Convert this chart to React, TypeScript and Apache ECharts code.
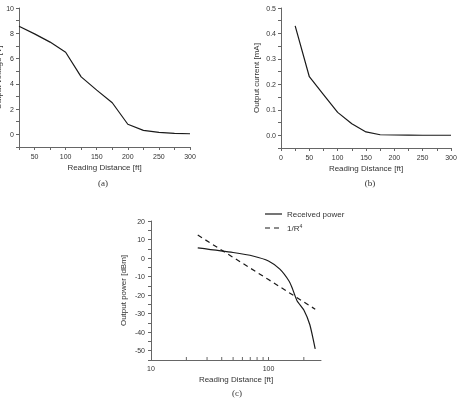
import React, { useEffect, useRef } from "react";
import * as echarts from "echarts";

// (a) Output voltage vs reading distance
const distA = [25, 50, 75, 100, 125, 150, 175, 200, 225, 250, 275, 300];
const voltA = [8.55, 7.95, 7.3, 6.5, 4.55, 3.5, 2.5, 0.8, 0.32, 0.15, 0.08, 0.05];

// (b) Output current vs reading distance
const distB = [25, 50, 75, 100, 125, 150, 175, 200, 225, 250, 275, 300];
const currB = [0.43, 0.23, 0.16, 0.09, 0.045, 0.013, 0.002, 0.001, 0.0005, 0, 0, 0];

// (c) Output power (log distance)
const distC = [25, 50, 75, 100, 125, 150, 160, 175, 200, 225, 250];
const recvC = [5.5, 3, 1, -1.6, -6, -12.5, -16.5, -23, -28, -36, -49];
const distR4 = [25, 100, 250];
const r4C = [12.4, -11.6, -27.6];
const minorTicksC = [20, 30, 40, 50, 60, 70, 80, 90, 200];

const FONT = "Liberation Sans";
const AX = "#666";
const TXT = "#333";
const LINE = "#1a1a1a";

const pairs = (xs: number[], ys: number[]) => xs.map((x, i) => [x, ys[i]]);

export default function App() {
  const ref = useRef<HTMLDivElement>(null);
  useEffect(() => {
    if (!ref.current) return;
    const chart = echarts.init(ref.current, null, { renderer: "svg" });
    const axisLine = { show: true, onZero: false, lineStyle: { color: AX, width: 1 } };
    const lbl = (extra: any = {}) => ({ color: TXT, fontFamily: FONT, fontSize: 7, ...extra });
    const nameStyle = { color: TXT, fontFamily: FONT, fontSize: 8 };
    const isMult = (v: number, m: number) => Math.abs(v / m - Math.round(v / m)) < 1e-6;
    const gridBase = { containLabel: false, outerBoundsMode: "none" };

    chart.setOption({
      animation: false,
      grid: [
        { ...gridBase, left: 19, top: 8, width: 171, height: 139 },
        { ...gridBase, left: 281, top: 8, width: 170, height: 140 },
        { ...gridBase, left: 151, top: 221, width: 170, height: 139 },
      ],
      xAxis: [
        {
          gridIndex: 0, type: "value", min: 25, max: 300, interval: 25,
          axisLine, splitLine: { show: false },
          axisTick: { show: true, length: 3, lineStyle: { color: AX } },
          axisLabel: lbl({ margin: 6, formatter: (v: number) => (isMult(v, 50) ? String(v) : "") }),
          name: "Reading Distance [ft]", nameLocation: "middle", nameGap: 16, nameTextStyle: nameStyle,
        },
        {
          gridIndex: 1, type: "value", min: 0, max: 300, interval: 25,
          axisLine, splitLine: { show: false },
          axisTick: { show: true, length: 3, lineStyle: { color: AX } },
          axisLabel: lbl({ margin: 6, formatter: (v: number) => (isMult(v, 50) ? String(v) : "") }),
          name: "Reading Distance [ft]", nameLocation: "middle", nameGap: 16, nameTextStyle: nameStyle,
        },
        {
          gridIndex: 2, type: "log", logBase: 10, min: 10, max: 280,
          axisLine, splitLine: { show: false },
          axisTick: { show: true, inside: true, length: 3, lineStyle: { color: AX } },
          axisLabel: lbl({ margin: 5, showMaxLabel: false }),
          name: "Reading Distance [ft]", nameLocation: "middle", nameGap: 15, nameTextStyle: nameStyle,
        },
      ],
      yAxis: [
        {
          gridIndex: 0, type: "value", min: -1, max: 10, interval: 1,
          axisLine, splitLine: { show: false },
          axisTick: { show: true, length: 3, lineStyle: { color: AX } },
          axisLabel: lbl({ margin: 5, formatter: (v: number) => (isMult(v, 2) ? String(v) : "") }),
          name: "Output voltage [V]", nameLocation: "middle", nameGap: 17, nameTextStyle: nameStyle,
        },
        {
          gridIndex: 1, type: "value", min: -0.05, max: 0.5, interval: 0.05,
          axisLine, splitLine: { show: false },
          axisTick: { show: true, length: 3, lineStyle: { color: AX } },
          axisLabel: lbl({ margin: 5, formatter: (v: number) => (isMult(v, 0.1) ? v.toFixed(1) : "") }),
          name: "Output current [mA]", nameLocation: "middle", nameGap: 21, nameTextStyle: nameStyle,
        },
        {
          gridIndex: 2, type: "value", min: -55, max: 20, interval: 5,
          axisLine, splitLine: { show: false },
          axisTick: { show: true, length: 3, lineStyle: { color: AX } },
          axisLabel: lbl({ margin: 6, formatter: (v: number) => (isMult(v, 10) ? String(v) : "") }),
          name: "Output power [dBm]", nameLocation: "middle", nameGap: 24, nameTextStyle: nameStyle,
        },
      ],
      series: [
        {
          type: "line", xAxisIndex: 0, yAxisIndex: 0, data: pairs(distA, voltA),
          showSymbol: false, symbol: "none", lineStyle: { color: LINE, width: 1.2 },
        },
        {
          type: "line", xAxisIndex: 1, yAxisIndex: 1, data: pairs(distB, currB),
          showSymbol: false, symbol: "none", lineStyle: { color: LINE, width: 1.2 },
        },
        {
          name: "Received power", type: "line", xAxisIndex: 2, yAxisIndex: 2, data: pairs(distC, recvC),
          showSymbol: false, symbol: "none", smooth: 0.2, lineStyle: { color: LINE, width: 1.2 },
        },
        {
          name: "1/R4", type: "line", xAxisIndex: 2, yAxisIndex: 2, data: pairs(distR4, r4C),
          showSymbol: false, symbol: "none", lineStyle: { color: LINE, width: 1.2, type: [5, 4] },
        },
        {
          type: "custom", xAxisIndex: 2, yAxisIndex: 2, clip: false,
          data: minorTicksC.map((x) => [x, -55]),
          encode: { x: 0, y: 1 },
          renderItem: (_p: any, api: any) => {
            const pt = api.coord([api.value(0), api.value(1)]);
            return {
              type: "line",
              shape: { x1: pt[0], y1: pt[1], x2: pt[0], y2: pt[1] - 3 },
              style: { stroke: AX, lineWidth: 1 },
            };
          },
        },
      ],
      graphic: [
        { type: "line", shape: { x1: 265, y1: 214, x2: 282, y2: 214 }, style: { stroke: LINE, lineWidth: 1.2 } },
        { type: "text", x: 287, y: 214, style: { text: "Received power", fill: TXT, font: `8px ${FONT}`, verticalAlign: "middle" } },
        { type: "line", shape: { x1: 265, y1: 228, x2: 282, y2: 228 }, style: { stroke: LINE, lineWidth: 1.2, lineDash: [5, 4] } },
        {
          type: "text", x: 287, y: 228,
          style: {
            text: "1/R{s|4}", fill: TXT, font: `8px ${FONT}`, verticalAlign: "middle",
            rich: { s: { fontSize: 5, verticalAlign: "top", fontFamily: FONT, fill: TXT, padding: [0, 0, 4, 0] } },
          },
        },
        { type: "text", x: 103, y: 183, style: { text: "(a)", fill: TXT, font: "9px 'Liberation Serif'", align: "center", verticalAlign: "middle" } },
        { type: "text", x: 370, y: 183, style: { text: "(b)", fill: TXT, font: "9px 'Liberation Serif'", align: "center", verticalAlign: "middle" } },
        { type: "text", x: 237, y: 393, style: { text: "(c)", fill: TXT, font: "9px 'Liberation Serif'", align: "center", verticalAlign: "middle" } },
      ],
    });
    return () => chart.dispose();
  }, []);
  return <div ref={ref} style={{ position: "fixed", left: 0, top: 0, width: 463, height: 405 }} />;
}
